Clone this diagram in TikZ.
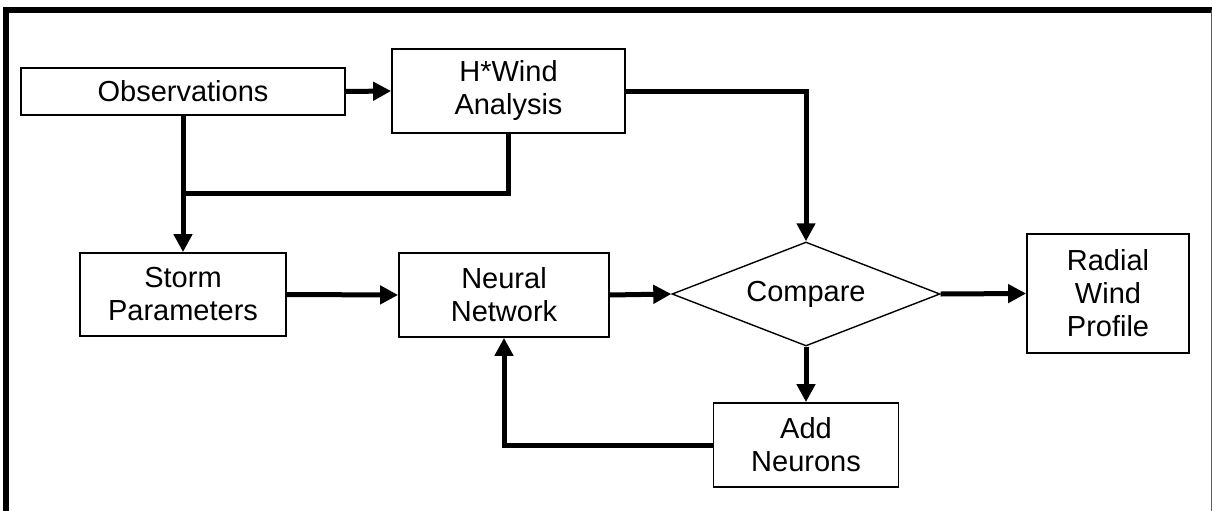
\documentclass[tikz,border=0pt]{standalone}
\usepackage{fontspec}
\setmainfont{Liberation Sans}
\usetikzlibrary{shapes.geometric,arrows.meta}
\begin{document}
\begin{tikzpicture}[x=1pt,y=-1pt,
  box/.style={draw, line width=1.8pt, rectangle, inner sep=0pt, align=center,
    font=\fontsize{29}{33}\selectfont},
  decide/.style={draw, line width=1.4pt, diamond, aspect=2.6, inner sep=0pt,
    minimum width=268pt, minimum height=104pt, font=\fontsize{29}{33}\selectfont},
  flow/.style={line width=5pt, line join=miter, -{Triangle[length=18pt,width=18pt]}},
  plain/.style={line width=5pt, line join=miter}]
\useasboundingbox (0,0) rectangle (1212,511);
% frame
\draw[line width=6pt, line join=miter] (6,511) -- (6,10) -- (1212,10);
\draw[line width=1pt, black!65] (1211,10) -- (1211,511);
% nodes
\node[box, minimum width=324pt, minimum height=47pt] (obs) at (183,91.5) {Observations};
\node[box, minimum width=233pt, minimum height=84pt] (hw) at (508.5,91) {H*Wind\\Analysis};
\node[box, minimum width=206pt, minimum height=83pt] (sp) at (183,294.5) {Storm\\Parameters};
\node[box, minimum width=210pt, minimum height=84pt] (nn) at (504,295) {Neural\\Network};
\node[decide] (cmp) at (806,294) {Compare};
\node[box, minimum width=162pt, minimum height=119pt] (rwp) at (1108,293.5) {Radial\\Wind\\Profile};
\node[box, minimum width=185pt, minimum height=84pt] (add) at (806,445) {Add\\Neurons};
\coordinate (j) at (183,193);
% connectors
\draw[flow] (obs.east) -- (hw.west);
\draw[flow] (obs.south) -- (sp.north);
\draw[plain] (hw.south) |- (j);
\draw[flow] (hw.east) -| (cmp.north);
\draw[flow] (sp.east) -- (nn.west);
\draw[flow] (nn.east) -- (cmp.west);
\draw[flow] (cmp.east) -- (rwp.west);
\draw[flow] (cmp.south) -- (add.north);
\draw[flow] (add.west) -| (nn.south);
\end{tikzpicture}
\end{document}
